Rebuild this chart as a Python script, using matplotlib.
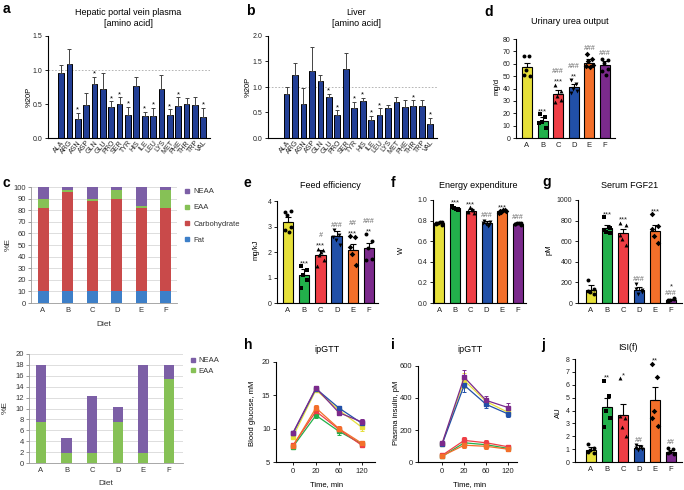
import numpy as np
import matplotlib.pyplot as plt
from matplotlib.lines import Line2D
from matplotlib.ticker import FormatStrFormatter

plt.rcParams['font.family'] = ['Liberation Sans', 'DejaVu Sans']
plt.rcParams['font.size'] = 5.5
plt.rcParams['axes.linewidth'] = 0.8
plt.rcParams['xtick.major.width'] = 0.7
plt.rcParams['ytick.major.width'] = 0.7
plt.rcParams['xtick.major.size'] = 2.5
plt.rcParams['ytick.major.size'] = 2.5
plt.rcParams['xtick.major.pad'] = 2
plt.rcParams['ytick.major.pad'] = 1.5

# ---- data ----
amino = ['ALA', 'ARG', 'ASN', 'ASP', 'GLN', 'GLU', 'PRO', 'SER', 'TYR',
         'HIS', 'ILE', 'LEU', 'LYS', 'MET', 'PHE', 'THR', 'TRP', 'VAL']
portal_mean = [0.96, 1.09, 0.28, 0.48, 0.80, 0.72, 0.45, 0.50, 0.34,
               0.76, 0.32, 0.33, 0.72, 0.34, 0.47, 0.50, 0.49, 0.31]
portal_err = [0.11, 0.22, 0.09, 0.18, 0.10, 0.24, 0.09, 0.10, 0.12,
              0.14, 0.06, 0.11, 0.20, 0.08, 0.13, 0.09, 0.11, 0.13]
portal_sig = ['', '', '*', '', '*', '', '*', '*', '*',
              '', '*', '*', '', '*', '*', '', '', '*']
liver_mean = [0.87, 1.23, 0.67, 1.31, 1.12, 0.80, 0.45, 1.36, 0.59,
              0.72, 0.36, 0.46, 0.59, 0.70, 0.61, 0.63, 0.63, 0.27]
liver_err = [0.13, 0.24, 0.31, 0.47, 0.11, 0.06, 0.09, 0.30, 0.12,
             0.07, 0.07, 0.12, 0.06, 0.10, 0.14, 0.11, 0.11, 0.13]
liver_sig = ['', '', '', '', '', '*', '*', '', '*',
             '*', '*', '*', '', '', '', '*', '', '*']

diets = ['A', 'B', 'C', 'D', 'E', 'F']
diet_colors = ['#e6e03a', '#22b04b', '#ef3e45', '#2150a8', '#f36f2a', '#7b2a8c']
diet_markers = ['o', 's', '^', 'v', 'D', 'o']

fat = [10, 10, 10, 10, 10, 10]
carb = [72, 85.5, 77.7, 79.8, 72, 72]
eaa = [7.5, 1.8, 1.8, 7.5, 1.8, 15.4]
neaa = [10.5, 2.7, 10.5, 2.7, 16.2, 2.6]

urea_mean = [57, 13.5, 35.5, 41, 61, 59]
urea_sem = [3.5, 3.5, 3, 2.5, 3, 3]
urea_pts = [[66, 66, 55, 50, 51], [19, 17, 13, 8, 12], [43, 38, 34, 31, 29],
            [47, 44, 40, 38, 36], [68, 64, 62, 59, 58, 57], [64, 63, 61, 56, 54, 51]]
urea_star = ['', '***', '***', '**', '', '']
urea_hash = ['', '', '###', '###', '###', '###']

feed_mean = [3.18, 1.08, 1.90, 2.61, 2.09, 2.17]
feed_sem = [0.19, 0.25, 0.17, 0.22, 0.23, 0.18]
feed_pts = [[3.57, 3.6, 3.44, 2.98, 2.85, 2.78], [1.44, 1.28, 1.08, 0.89, 0.59],
            [2.13, 2.07, 1.87, 1.67, 1.44, 2.0], [2.85, 2.65, 2.46, 2.26, 2.6],
            [2.61, 2.59, 1.93, 1.5, 2.2], [2.69, 2.43, 2.17, 1.74, 1.67]]
feed_star = ['', '***', '***', '', '***', '**']
feed_hash = ['', '', '#', '###', '##', '###']

ee_mean = [0.78, 0.92, 0.895, 0.78, 0.89, 0.77]
ee_sem = [0.01, 0.015, 0.02, 0.02, 0.01, 0.01]
ee_pts = [[0.77, 0.79, 0.78, 0.76, 0.775, 0.785], [0.93, 0.91, 0.92, 0.90, 0.94, 0.915],
          [0.88, 0.90, 0.93, 0.87, 0.895, 0.91], [0.80, 0.76, 0.77, 0.79, 0.78, 0.75],
          [0.89, 0.90, 0.88, 0.895, 0.87, 0.90], [0.77, 0.76, 0.78, 0.775, 0.765, 0.78]]
ee_star = ['', '***', '***', '', '***', '']
ee_hash = ['', '', '', '###', '', '###']

fgf_mean = [130, 724, 675, 123, 698, 32]
fgf_sem = [40, 35, 40, 30, 55, 10]
fgf_pts = [[220, 140, 107, 91, 117], [831, 724, 692, 675, 708], [779, 756, 617, 562, 659],
           [182, 123, 91, 107, 140], [860, 747, 649, 578, 714], [30, 45, 25, 40, 20]]
fgf_star = ['', '***', '***', '', '***', '*']
fgf_hash = ['', '', '', '###', '', '###']

isi_mean = [0.96, 4.24, 3.65, 1.09, 4.8, 0.8]
isi_sem = [0.2, 0.7, 0.85, 0.2, 1.0, 0.1]
isi_pts = [[1.4, 1.1, 0.9, 0.7, 0.75], [6.3, 5.15, 4.0, 3.4, 2.7], [6.5, 3.45, 2.7, 2.0, 3.6],
           [1.3, 1.2, 0.9, 1.0, 1.05], [7.6, 6.6, 4.0, 2.8, 3.4], [1.1, 1.0, 0.8, 0.6, 0.7]]
isi_star = ['', '**', '*', '', '**', '']
isi_hash = ['', '', '', '##', '', '##']

times = ['0', '20', '60', '120']
glucose_mean = [[8.8, 15.8, 12.8, 10.2], [7.3, 12.0, 9.6, 7.7], [7.5, 12.6, 9.9, 7.5],
                [9.3, 16.0, 13.1, 10.8], [7.4, 13.1, 10.0, 7.8], [9.4, 16.1, 12.4, 11.0]]
glucose_sem = [[0.3, 0.3, 0.4, 0.5], [0.2, 0.4, 0.6, 0.3], [0.2, 0.4, 0.4, 0.3],
               [0.3, 0.3, 0.3, 0.4], [0.2, 0.4, 0.4, 0.3], [0.3, 0.3, 0.4, 0.5]]
insulin_mean = [[115, 510, 378, 310], [35, 120, 108, 85], [42, 135, 120, 95],
                [112, 480, 360, 300], [38, 105, 98, 80], [118, 530, 385, 340]]
insulin_sem = [[10, 45, 25, 20], [8, 20, 15, 12], [8, 22, 15, 12],
               [10, 40, 20, 18], [8, 18, 15, 10], [10, 45, 25, 28]]

# ---- layout helpers (pixel boxes) ----
W, H = 684, 490
fig = plt.figure(figsize=(6.84, 4.9), dpi=100)


def box(l, r, t, b):
    return fig.add_axes([l / W, 1 - b / H, (r - l) / W, (b - t) / H])


def ftext(x, y, s, **kw):
    fig.text(x / W, 1 - y / H, s, **kw)


def prism(ax):
    for s in ['top', 'right']:
        ax.spines[s].set_visible(False)
    ax.tick_params(colors='#222', labelsize=5)


jit = np.array([-0.18, 0.16, -0.06, 0.2, -0.2, 0.06])


def dot_bars(ax, mean, sem, pts, star, hsh, star_top=False):
    x = np.arange(6)
    ax.bar(x, mean, width=0.64, color=diet_colors, edgecolor='k', linewidth=0.8, zorder=2)
    ax.errorbar(x, mean, yerr=[np.zeros(6), sem], fmt='none', ecolor='k',
                elinewidth=0.8, capsize=2, capthick=0.8, zorder=3)
    for i in range(6):
        p = pts[i]
        ax.scatter(i + jit[:len(p)], p, marker=diet_markers[i], s=8, color='k',
                   linewidths=0, zorder=4)
        top = max(max(p), mean[i] + sem[i])
        order = [(hsh[i], 'h'), (star[i], 's')] if star_top else [(star[i], 's'), (hsh[i], 'h')]
        off = 1.0
        for t, kind in order:
            if not t:
                continue
            if kind == 'h':
                ax.annotate(t, (i, top), xytext=(0, off), textcoords='offset points',
                            ha='center', va='bottom', fontsize=5, color='#666', style='italic')
            else:
                ax.annotate(t, (i, top), xytext=(0, off - 1.5), textcoords='offset points',
                            ha='center', va='bottom', fontsize=5.5, color='#222')
            off += 6
    ax.set_xticks(x)
    ax.set_xticklabels(diets)
    prism(ax)
    ax.tick_params(axis='x', length=0, pad=3, labelsize=5.5)


def aa_bars(ax, mean, err, sig, ymax, yticks, lo):
    x = np.arange(len(amino))
    ax.bar(x, mean, width=0.68, color='#233f95', edgecolor='k', linewidth=0.7, zorder=2)
    ax.errorbar(x, mean, yerr=[np.zeros(len(x)), err], fmt='none', ecolor='#444',
                elinewidth=0.7, capsize=1.5, capthick=0.7, zorder=3)
    ax.axhline(1.0, ls=(0, (2, 2)), color='#aaa', lw=0.6, zorder=1)
    for i in range(len(x)):
        if sig[i]:
            ax.annotate(sig[i], (i, mean[i] + err[i]), xytext=(0, -0.5), textcoords='offset points',
                        ha='center', va='bottom', fontsize=5.5)
    ax.set_xticks(x)
    ax.set_xticklabels(amino, rotation=50, ha='right', rotation_mode='anchor', fontsize=4.5)
    ax.set_xlim(lo, 17.8)
    ax.set_ylim(0, ymax)
    ax.set_yticks(yticks)
    ax.yaxis.set_major_formatter(FormatStrFormatter('%.1f'))
    prism(ax)
    ax.tick_params(axis='x', length=0, pad=1)


# a
ax = box(48, 210, 36, 138)
aa_bars(ax, portal_mean, portal_err, portal_sig, 1.5, [0, 0.5, 1.0, 1.5], -1.55)
ftext(128, 18, 'Hepatic portal vein plasma\n[amino acid]', ha='center', va='center', fontsize=6.5, linespacing=1.3)
ftext(29, 97, '%20P', rotation=90, ha='center', va='center', fontsize=5.5)

# b
ax = box(268, 437, 36, 138)
aa_bars(ax, liver_mean, liver_err, liver_sig, 2.0, [0, 0.5, 1.0, 1.5, 2.0], -2.2)
ftext(356, 18, 'Liver\n[amino acid]', ha='center', va='center', fontsize=6.5, linespacing=1.3)
ftext(248, 87, '%20P', rotation=90, ha='center', va='center', fontsize=5.5)

# d
ax = box(516, 615, 39, 138)
dot_bars(ax, urea_mean, urea_sem, urea_pts, urea_star, urea_hash)
ax.set_xlim(-0.7, 5.64)
ax.set_ylim(0, 80)
ax.set_yticks(range(0, 81, 10))
ftext(570, 22, 'Urinary urea output', ha='center', va='center', fontsize=6.5)
ftext(497, 86, 'mg/d', rotation=90, ha='center', va='center', fontsize=5.5)

# c (top)
excel_colors = {'Fat': '#3d7fc8', 'Carbohydrate': '#c94a4a', 'EAA': '#86c156', 'NEAA': '#7c5fa6'}


def excel(ax):
    for s in ['top', 'right']:
        ax.spines[s].set_visible(False)
    ax.spines['left'].set_color('#999')
    ax.spines['bottom'].set_color('#999')
    ax.spines['left'].set_linewidth(0.6)
    ax.spines['bottom'].set_linewidth(0.6)
    ax.yaxis.grid(True, color='#d8d8d8', lw=0.6)
    ax.set_axisbelow(True)
    ax.tick_params(colors='#999', labelcolor='#333', labelsize=5.5, length=2)
    ax.tick_params(axis='x', length=0, pad=3)


ax = box(31, 177, 187, 303)
x = np.arange(6)
b0 = np.zeros(6)
for name, vals in [('Fat', fat), ('Carbohydrate', carb), ('EAA', eaa), ('NEAA', neaa)]:
    ax.bar(x, vals, bottom=b0, width=0.45, color=excel_colors[name], label=name, zorder=2)
    b0 = b0 + np.array(vals)
ax.set_xlim(-0.49, 5.45)
ax.set_ylim(0, 100)
ax.set_yticks(range(0, 101, 10))
ax.set_xticks(x)
ax.set_xticklabels(diets)
excel(ax)
names = ['NEAA', 'EAA', 'Carbohydrate', 'Fat']
hnd = [Line2D([], [], ls='none', marker='s', ms=3.5, color=excel_colors[n]) for n in names]
ax.legend(hnd, names, loc='upper left', bbox_to_anchor=(185 / W, 1 - 188 / H), bbox_transform=fig.transFigure,
          frameon=False, fontsize=5.5, handlelength=0.6, handletextpad=0.5, labelspacing=1.15,
          borderaxespad=0, borderpad=0, labelcolor='#333')
ftext(104, 325, 'Diet', ha='center', va='center', fontsize=6, color='#333')
ftext(8, 245, '%E', rotation=90, ha='center', va='center', fontsize=6, color='#333')

# c (bottom)
ax = box(29, 183, 354, 463)
ax.bar(x, eaa, width=0.4, color=excel_colors['EAA'], zorder=2)
ax.bar(x, neaa, bottom=eaa, width=0.4, color=excel_colors['NEAA'], zorder=2)
ax.set_xlim(-0.47, 5.55)
ax.set_ylim(0, 20)
ax.set_yticks(range(0, 21, 2))
ax.set_xticks(x)
ax.set_xticklabels(diets)
excel(ax)
names = ['NEAA', 'EAA']
hnd = [Line2D([], [], ls='none', marker='s', ms=3, color=excel_colors[n]) for n in names]
ax.legend(hnd, names, loc='upper left', bbox_to_anchor=(191 / W, 1 - 357 / H), bbox_transform=fig.transFigure,
          frameon=False, fontsize=5.5, handlelength=0.6, handletextpad=0.4, labelspacing=0.45,
          borderaxespad=0, borderpad=0, labelcolor='#333')
ftext(106, 483, 'Diet', ha='center', va='center', fontsize=6, color='#333')
ftext(5, 408, '%E', rotation=90, ha='center', va='center', fontsize=6, color='#333')

# e
ax = box(277, 378, 201, 303)
dot_bars(ax, feed_mean, feed_sem, feed_pts, feed_star, feed_hash)
ax.set_xlim(-0.68, 5.55)
ax.set_ylim(0, 4)
ax.set_yticks(range(0, 5))
ftext(330, 185, 'Feed efficiency', ha='center', va='center', fontsize=6.5)
ftext(256, 250, 'mg/kJ', rotation=90, ha='center', va='center', fontsize=5.5)

# f
ax = box(433, 526, 200, 303)
dot_bars(ax, ee_mean, ee_sem, ee_pts, ee_star, ee_hash)
ax.set_xlim(-0.4, 5.5)
ax.set_ylim(0, 1.0)
ax.set_yticks([0, 0.2, 0.4, 0.6, 0.8, 1.0])
ax.yaxis.set_major_formatter(FormatStrFormatter('%.1f'))
ftext(478, 185, 'Energy expenditure', ha='center', va='center', fontsize=6.5)
ftext(401, 250, 'W', rotation=90, ha='center', va='center', fontsize=5.5)

# g
ax = box(578, 682, 200, 303)
dot_bars(ax, fgf_mean, fgf_sem, fgf_pts, fgf_star, fgf_hash, star_top=True)
ax.set_xlim(-0.81, 5.68)
ax.set_ylim(0, 1000)
ax.set_yticks(range(0, 1001, 200))
ftext(630, 185, 'Serum FGF21', ha='center', va='center', fontsize=6.5)
ftext(549, 250, 'pM', rotation=90, ha='center', va='center', fontsize=5.5)

# h
ax = box(276, 375, 362, 462)
tx = np.arange(len(times))
for k in range(6):
    ax.errorbar(tx, glucose_mean[k], yerr=glucose_sem[k], color=diet_colors[k], marker='s', ms=2.8,
                lw=0.9, elinewidth=0.7, capsize=1.5, capthick=0.7)
ax.set_xlim(-0.74, 3.57)
ax.set_ylim(5, 20)
ax.set_yticks([5, 10, 15, 20])
ax.set_xticks(tx)
ax.set_xticklabels(times)
prism(ax)
ax.tick_params(labelsize=5.5)
ftext(327, 349, 'ipGTT', ha='center', va='center', fontsize=6.5)
ftext(327, 485, 'Time, min', ha='center', va='center', fontsize=5.5)
ftext(252, 413, 'Blood glucose, mM', rotation=90, ha='center', va='center', fontsize=5.5)

# i
ax = box(418, 517, 366, 462)
for k in range(6):
    ax.errorbar(tx, insulin_mean[k], yerr=insulin_sem[k], color=diet_colors[k], marker='s', ms=2.8,
                lw=0.9, elinewidth=0.7, capsize=1.5, capthick=0.7)
ax.set_xlim(-1.1, 3.4)
ax.set_ylim(0, 600)
ax.set_yticks([0, 200, 400, 600])
ax.set_xticks(tx)
ax.set_xticklabels(times)
prism(ax)
ax.tick_params(labelsize=5.5)
ftext(470, 349, 'ipGTT', ha='center', va='center', fontsize=6.5)
ftext(470, 485, 'Time, min', ha='center', va='center', fontsize=5.5)
ftext(397, 413, 'Plasma insulin, pM', rotation=90, ha='center', va='center', fontsize=5.5)

# j
ax = box(575, 682, 359, 462)
dot_bars(ax, isi_mean, isi_sem, isi_pts, isi_star, isi_hash)
ax.set_xlim(-1.0, 5.7)
ax.set_ylim(0, 8)
ax.set_yticks(range(0, 9))
ftext(628, 348, 'ISI(f)', ha='center', va='center', fontsize=6.5)
ftext(558, 413, 'AU', rotation=90, ha='center', va='center', fontsize=5.5)

# panel letters
for s, px, py in [('a', 6, 9), ('b', 250, 11), ('d', 489, 12), ('c', 6, 183), ('e', 247, 183),
                  ('f', 393, 183), ('g', 547, 182), ('h', 248, 345), ('i', 393, 345), ('j', 543, 345)]:
    ftext(px, py, s, ha='center', va='center', fontsize=10, fontweight='bold')

fig.savefig('out.png', dpi=100)
